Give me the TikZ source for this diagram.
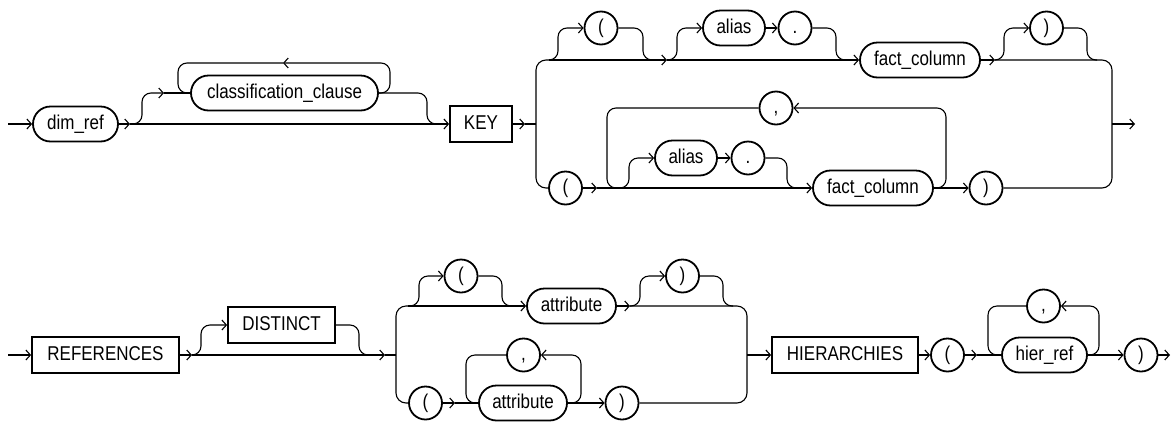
\documentclass[tikz,border=0pt]{standalone}
\usepackage{fontspec}
\setmainfont{Liberation Sans}[FakeStretch=0.85]
\usetikzlibrary{arrows.meta,shapes.misc}
\tikzset{
  ntbox/.style={draw, rounded rectangle, line width=1.8pt, minimum height=35pt, inner sep=0pt, text height=14pt, text depth=4pt, font=\fontsize{20}{24}\selectfont},
  kwbox/.style={draw, rectangle, line width=1.8pt, minimum height=36pt, inner sep=0pt, text height=14pt, text depth=4pt, font=\fontsize{20}{24}\selectfont},
  symc/.style={draw, circle, line width=1.8pt, minimum size=33pt, inner sep=0pt, text height=14pt, text depth=4pt, font=\fontsize{20}{24}\selectfont},
  crv/.style={rounded corners=9pt},
}
\begin{document}
\begin{tikzpicture}[x=1pt,y=-1pt,line width=1.1pt,>={Straight Barb[length=4.5pt,width=10pt]}]
\useasboundingbox (0,0) rectangle (1172,421);
% ---------- Row 1 nodes ----------
\node[ntbox, minimum width=85] (dimref) at (75.5,124) {dim\_ref};
\node[ntbox, minimum width=187] (cls) at (284.5,93) {classification\_clause};
\node[kwbox, minimum width=62] (key) at (481,124) {KEY};
\node[symc] (lp1) at (601,28) {(};
\node[ntbox, minimum width=62] (alias1) at (734,28) {alias};
\node[symc] (dot1) at (795,28) {.};
\node[ntbox, minimum width=120] (fc1) at (920,60) {fact\_column};
\node[symc] (rp1) at (1046.5,28) {)};
\node[symc] (lp2) at (565.5,188) {(};
\node[symc] (com1) at (776,108) {,};
\node[ntbox, minimum width=62] (alias2) at (686,158) {alias};
\node[symc] (dot2) at (748,158) {.};
\node[ntbox, minimum width=120] (fc2) at (873,188) {fact\_column};
\node[symc] (rp2) at (986,188) {)};
% ---------- Row 1 coordinates ----------
\coordinate (s1) at (8,124);
\coordinate (a1) at (130,124);
\coordinate (a3) at (164,93);
\coordinate (a4) at (283,63);
\coordinate (m1) at (440,124);
\coordinate (a6) at (525,124);
\coordinate (v1) at (536,124);
\coordinate (t1) at (549,60);
\coordinate (a8) at (667,60);
\coordinate (a12) at (995,60);
\coordinate (a16) at (597,188);
\coordinate (b1) at (618,188);
\coordinate (e1) at (1112,124);
\coordinate (e2) at (1135,124);
% ---------- Row 1 connectors ----------
\draw[->] (s1) -- (dimref.west);
\draw[->] (dimref.east) -- (a1);
\draw[->] (a1) -- (key.west);
\draw[->,crv] (a1) -- (142,124) -- (142,93) -- (a3);
\draw (a3) -- (cls.west);
\draw[->,crv] (cls.east) -- (390,93) -- (390,63) -- (a4);
\draw[crv] (a4) -- (178,63) -- (178,93) -- (cls.west);
\draw[crv] (cls.east) -- (427,93) -- (427,124) -- (m1);
\draw[->] (key.east) -- (a6);
\draw (a6) -- (v1);
\draw[crv,rounded corners=10pt] (lp2.west) -- (536,188) -- (536,60) -- (t1);
\draw[->] (t1) -- (a8);
\draw[->,crv] (t1) -- (558,60) -- (558,28) -- (lp1.west);
\draw[crv] (lp1.east) -- (643,28) -- (643,60) -- (652,60);
\draw[->,crv] (a8) -- (677,60) -- (677,28) -- (alias1.west);
\draw[->] (alias1.east) -- (dot1.west);
\draw[crv] (dot1.east) -- (836,28) -- (836,60) -- (846,60);
\draw[->] (a8) -- (fc1.west);
\draw[->] (fc1.east) -- (a12);
\draw[->,crv] (a12) -- (1004,60) -- (1004,28) -- (rp1.west);
\draw[crv] (rp1.east) -- (1087,28) -- (1087,60) -- (1097,60);
\draw[crv,rounded corners=10pt] (a12) -- (1112,60) -- (1112,188) -- (rp2.east);
\draw[->] (e1) -- (e2);
\draw[->] (lp2.east) -- (a16);
\draw[->] (a16) -- (fc2.west);
\draw[crv] (com1.west) -- (607,108) -- (607,188) -- (b1);
\draw[->,crv] (b1) -- (629,188) -- (629,158) -- (alias2.west);
\draw[->] (alias2.east) -- (dot2.west);
\draw[crv] (dot2.east) -- (787,158) -- (787,188) -- (797,188);
\draw[->,crv] (fc2.east) -- (946,188) -- (946,108) -- (com1.east);
\draw[->] (fc2.east) -- (rp2.west);
% ---------- Row 2 nodes ----------
\node[kwbox, minimum width=147] (ref) at (105.5,355) {REFERENCES};
\node[kwbox, minimum width=107] (dist) at (281.5,325) {DISTINCT};
\node[symc] (lp4) at (461,276) {(};
\node[ntbox, minimum width=89] (attr1) at (571.5,306) {attribute};
\node[symc] (rp3) at (682.5,276) {)};
\node[symc] (lp3) at (425.5,403) {(};
\node[symc] (com2) at (523.5,355) {,};
\node[ntbox, minimum width=88] (attr2) at (523,403) {attribute};
\node[symc] (rp4) at (622,403) {)};
\node[kwbox, minimum width=146] (hier) at (845,355) {HIERARCHIES};
\node[symc] (lp5) at (947.5,355) {(};
\node[symc] (com3) at (1043.5,306) {,};
\node[ntbox, minimum width=85] (hierref) at (1044.5,355) {hier\_ref};
\node[symc] (rp5) at (1141,355) {)};
% ---------- Row 2 coordinates ----------
\coordinate (s2) at (8,355);
\coordinate (a23) at (192,355);
\coordinate (a25) at (385,355);
\coordinate (v2) at (396,355);
\coordinate (t2) at (408,306);
\coordinate (a28) at (630,306);
\coordinate (a31) at (455,403);
\coordinate (e3) at (747,355);
\coordinate (a36) at (977,355);
\coordinate (e4) at (1170,355);
% ---------- Row 2 connectors ----------
\draw[->] (s2) -- (ref.west);
\draw[->] (ref.east) -- (a23);
\draw[->,crv] (a23) -- (201,355) -- (201,325) -- (dist.west);
\draw[crv] (dist.east) -- (359,325) -- (359,355) -- (369,355);
\draw[->] (a23) -- (a25);
\draw (a25) -- (v2);
\draw[crv,rounded corners=10pt] (lp3.west) -- (396,403) -- (396,306) -- (t2);
\draw[->] (t2) -- (attr1.west);
\draw[->,crv] (t2) -- (419,306) -- (419,276) -- (lp4.west);
\draw[crv] (lp4.east) -- (502,276) -- (502,306) -- (512,306);
\draw[->] (attr1.east) -- (a28);
\draw[->,crv] (a28) -- (640,306) -- (640,276) -- (rp3.west);
\draw[crv] (rp3.east) -- (723,276) -- (723,306) -- (733,306);
\draw[crv,rounded corners=10pt] (a28) -- (747,306) -- (747,403) -- (rp4.east);
\draw[->] (lp3.east) -- (a31);
\draw (a31) -- (attr2.west);
\draw[crv] (com2.west) -- (466,355) -- (466,403) -- (attr2.west);
\draw[->,crv] (attr2.east) -- (581,403) -- (581,355) -- (com2.east);
\draw[->] (attr2.east) -- (rp4.west);
\draw[->] (e3) -- (hier.west);
\draw[->] (hier.east) -- (lp5.west);
\draw[->] (lp5.east) -- (a36);
\draw (a36) -- (hierref.west);
\draw[crv] (com3.west) -- (988,306) -- (988,355) -- (hierref.west);
\draw[->,crv] (hierref.east) -- (1099,355) -- (1099,306) -- (com3.east);
\draw[->] (hierref.east) -- (rp5.west);
\draw[->] (rp5.east) -- (e4);
\end{tikzpicture}
\end{document}
